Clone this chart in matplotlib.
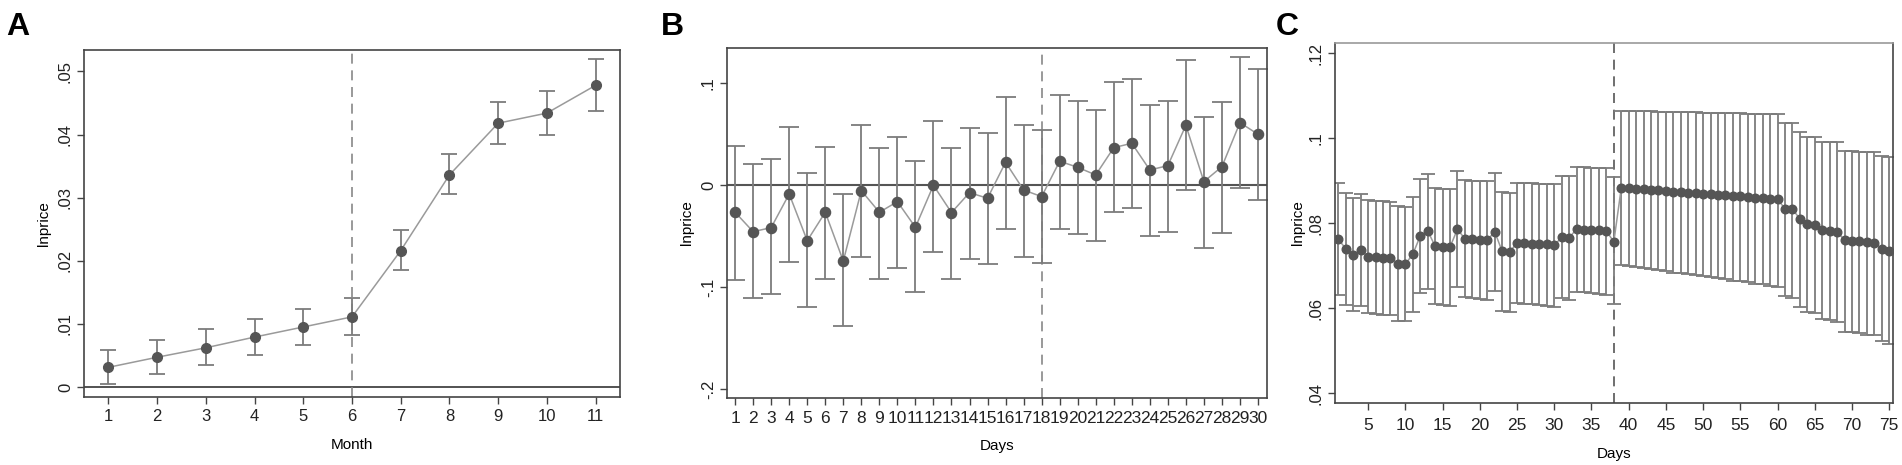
import matplotlib
matplotlib.use("Agg")
import matplotlib.pyplot as plt

plt.rcParams['font.family'] = ['Liberation Sans', 'DejaVu Sans']

# ---- panel A: months ----
a_month = [1, 2, 3, 4, 5, 6, 7, 8, 9, 10, 11]
a_est = [0.0031, 0.0047, 0.0062, 0.0079, 0.0095, 0.0111, 0.0216, 0.0336, 0.0418, 0.0434, 0.0478]
a_hi = [0.0058, 0.0074, 0.0091, 0.0107, 0.0124, 0.0141, 0.0248, 0.0369, 0.0452, 0.0469, 0.0520]
a_lo = [0.0004, 0.0020, 0.0035, 0.0051, 0.0066, 0.0082, 0.0186, 0.0305, 0.0385, 0.0400, 0.0438]
a_yticks = [0, 0.01, 0.02, 0.03, 0.04, 0.05]
a_yticklabels = ['0', '.01', '.02', '.03', '.04', '.05']

# ---- panel B: days ----
b_day = list(range(1, 31))
b_est = [-0.0267, -0.0457, -0.0417, -0.0088, -0.0545, -0.0267, -0.0744, -0.0055, -0.0267, -0.0163,
         -0.0414, -0.0003, -0.0270, -0.0075, -0.0130, 0.0222, -0.0049, -0.0114, 0.0232, 0.0173,
         0.0098, 0.0365, 0.0408, 0.0147, 0.0189, 0.0584, 0.0033, 0.0179, 0.0610, 0.0496]
b_hi = [0.0385, 0.0205, 0.0251, 0.0568, 0.0117, 0.0375, -0.0088, 0.0584, 0.0365, 0.0473,
        0.0235, 0.0630, 0.0365, 0.0561, 0.0509, 0.0861, 0.0590, 0.0535, 0.0877, 0.0819,
        0.0737, 0.1008, 0.1040, 0.0783, 0.0825, 0.1223, 0.0669, 0.0815, 0.1249, 0.1135]
b_lo = [-0.0930, -0.1110, -0.1067, -0.0753, -0.1190, -0.0923, -0.1380, -0.0704, -0.0920, -0.0809,
        -0.1047, -0.0652, -0.0920, -0.0720, -0.0776, -0.0427, -0.0704, -0.0766, -0.0427, -0.0480,
        -0.0551, -0.0267, -0.0228, -0.0499, -0.0457, -0.0049, -0.0613, -0.0473, -0.0029, -0.0147]
b_yticks = [-0.2, -0.1, 0, 0.1]
b_yticklabels = ['-.2', '-.1', '0', '.1']

# ---- panel C: days ----
c_day = list(range(1, 76))
c_est = [0.0762, 0.0740, 0.0725, 0.0737, 0.0721, 0.0720, 0.0719, 0.0718, 0.0705, 0.0704,
         0.0727, 0.0770, 0.0782, 0.0746, 0.0745, 0.0744, 0.0786, 0.0763, 0.0762, 0.0761,
         0.0760, 0.0780, 0.0734, 0.0732, 0.0754, 0.0753, 0.0752, 0.0751, 0.0750, 0.0748,
         0.0767, 0.0766, 0.0786, 0.0785, 0.0784, 0.0783, 0.0782, 0.0756,
         0.0883, 0.0882, 0.0881, 0.0880, 0.0878, 0.0877, 0.0876, 0.0874, 0.0873, 0.0872,
         0.0871, 0.0869, 0.0868, 0.0867, 0.0866, 0.0864, 0.0863, 0.0862, 0.0860, 0.0859,
         0.0858, 0.0856,
         0.0834, 0.0833, 0.0810, 0.0797, 0.0795, 0.0783, 0.0782, 0.0780,
         0.0760, 0.0759, 0.0757, 0.0756, 0.0754, 0.0740, 0.0734]
c_hi = [0.0895, 0.0871, 0.0859, 0.0868, 0.0854, 0.0853, 0.0852, 0.0851, 0.0840, 0.0839,
        0.0862, 0.0905, 0.0915, 0.0882, 0.0881, 0.0880, 0.0923, 0.0901, 0.0900, 0.0900,
        0.0899, 0.0918, 0.0874, 0.0872, 0.0895, 0.0894, 0.0894, 0.0893, 0.0892, 0.0892,
        0.0912, 0.0911, 0.0933, 0.0932, 0.0931, 0.0930, 0.0929, 0.0908,
        0.1064, 0.1064, 0.1063, 0.1063, 0.1063, 0.1062, 0.1062, 0.1062, 0.1061, 0.1061,
        0.1061, 0.1060, 0.1060, 0.1060, 0.1059, 0.1059, 0.1059, 0.1058, 0.1058, 0.1058,
        0.1057, 0.1057,
        0.1036, 0.1035, 0.1014, 0.1004, 0.1003, 0.0992, 0.0991, 0.0990,
        0.0969, 0.0969, 0.0968, 0.0968, 0.0967, 0.0958, 0.0955]
c_lo = [0.0631, 0.0608, 0.0594, 0.0605, 0.0588, 0.0587, 0.0585, 0.0584, 0.0571, 0.0569,
        0.0591, 0.0636, 0.0646, 0.0609, 0.0607, 0.0605, 0.0650, 0.0627, 0.0624, 0.0622,
        0.0619, 0.0641, 0.0594, 0.0591, 0.0613, 0.0611, 0.0609, 0.0607, 0.0605, 0.0602,
        0.0623, 0.0620, 0.0639, 0.0637, 0.0635, 0.0633, 0.0631, 0.0609,
        0.0701, 0.0699, 0.0696, 0.0694, 0.0692, 0.0689, 0.0687, 0.0684, 0.0682, 0.0680,
        0.0677, 0.0675, 0.0673, 0.0670, 0.0668, 0.0665, 0.0663, 0.0661, 0.0658, 0.0656,
        0.0653, 0.0651,
        0.0628, 0.0625, 0.0603, 0.0590, 0.0588, 0.0575, 0.0572, 0.0568,
        0.0545, 0.0543, 0.0541, 0.0538, 0.0536, 0.0523, 0.0516]
c_xticks = [5, 10, 15, 20, 25, 30, 35, 40, 45, 50, 55, 60, 65, 70, 75]
c_yticks = [0.04, 0.06, 0.08, 0.10, 0.12]
c_yticklabels = ['.04', '.06', '.08', '.1', '.12']

W, H = 1902, 465
fig = plt.figure(figsize=(W / 100, H / 100), dpi=100)


def px_axes(left, top, right, bottom):
    # axes from pixel box (origin top-left)
    return fig.add_axes([left / W, 1 - bottom / H, (right - left) / W, (bottom - top) / H])


def draw_panel(ax, x, est, lo, hi, capsize, msize, ecolor='#7c7c7c'):
    yerr = [[e - l for e, l in zip(est, lo)], [h - e for e, h in zip(est, hi)]]
    ax.errorbar(x, est, yerr=yerr, fmt='none', ecolor=ecolor, elinewidth=1.3,
                capsize=capsize, capthick=1.3, zorder=2)
    ax.plot(x, est, '-', color='#9a9a9a', lw=1.1, zorder=3)
    ax.plot(x, est, 'o', color='#555555', ms=msize, mec='#555555', zorder=4)


def style(ax):
    for s in ax.spines.values():
        s.set_color('#444444')
        s.set_linewidth(1.2)
    ax.tick_params(axis='both', direction='out', length=5, width=1, color='#444444',
                   labelsize=12, labelcolor='#222222')
    ax.tick_params(axis='y', pad=3)
    for lab in ax.get_yticklabels():
        lab.set_rotation(90)
        lab.set_va('center')


# Panel A
axA = px_axes(84, 50, 620, 397)
draw_panel(axA, a_month, a_est, a_lo, a_hi, capsize=6, msize=7)
axA.axhline(0, color='#444444', lw=1.3, zorder=1)
axA.axvline(6, color='#888888', lw=1.2, ls=(0, (6, 4)), zorder=1)
axA.set_xlim(0.5, 11.5)
axA.set_ylim(-0.0016, 0.0534)
axA.set_xticks(a_month)
axA.set_yticks(a_yticks)
axA.set_yticklabels(a_yticklabels)
axA.set_xlabel('Month', fontsize=11, labelpad=10)
axA.set_ylabel('lnprice', fontsize=11, labelpad=5)
style(axA)

# Panel B
axB = px_axes(727, 48, 1267, 398)
draw_panel(axB, b_day, b_est, b_lo, b_hi, capsize=7.5, msize=7.3)
axB.axhline(0, color='#555555', lw=1.5, zorder=1)
axB.axvline(18, color='#888888', lw=1.2, ls=(0, (6, 4)), zorder=1)
axB.set_xlim(0.55, 30.5)
axB.set_ylim(-0.2084, 0.134)
axB.set_xticks(b_day)
axB.set_yticks(b_yticks)
axB.set_yticklabels(b_yticklabels)
axB.set_xlabel('Days', fontsize=11, labelpad=10)
axB.set_ylabel('lnprice', fontsize=11, labelpad=5)
style(axB)
axB.tick_params(axis='x', labelsize=12.5, pad=4)

# Panel C
axC = px_axes(1335, 43, 1893, 403)
draw_panel(axC, c_day, c_est, c_lo, c_hi, capsize=5.3, msize=6.2)
axC.axvline(38, color='#555555', lw=1.2, ls=(0, (6, 4)), zorder=1)
axC.set_xlim(0.55, 75.5)
axC.set_ylim(0.0377, 0.1224)
axC.set_xticks(c_xticks)
axC.set_yticks(c_yticks)
axC.set_yticklabels(c_yticklabels)
axC.set_xlabel('Days', fontsize=11, labelpad=10)
axC.set_ylabel('lnprice', fontsize=11, labelpad=3)
style(axC)
axC.spines['top'].set_color('#999999')
axC.tick_params(axis='x', labelsize=12.5, pad=6)

# panel letters
for letter, xpx in [('A', 6), ('B', 661), ('C', 1276)]:
    fig.text(xpx / W, 1 - 12 / H, letter, fontsize=23, fontweight='bold', va='top', ha='left')

fig.savefig('out.png', dpi=100, facecolor='white')
